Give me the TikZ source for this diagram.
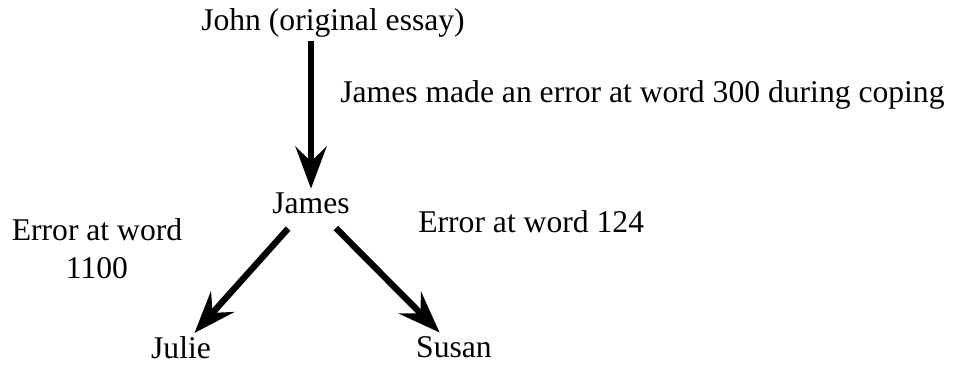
\documentclass[tikz,border=0pt]{standalone}
\usepackage{fontspec}
\setmainfont{Liberation Serif}
\usetikzlibrary{arrows.meta,positioning}
\tikzset{
  person/.style={inner sep=2pt,font=\fontsize{18}{21.5}\selectfont},
  errnote/.style={inner sep=0pt,font=\fontsize{18}{21.5}\selectfont,align=center},
  copyarrow/.style={-{Stealth[length=0.84cm,width=0.62cm,inset=0.3cm]},line width=3.6pt}
}
\begin{document}
\begin{tikzpicture}[x=0.02cm,y=-0.02cm]
  \useasboundingbox (0,0) rectangle (953,365);
  \node[person] (john) at (333,23) {John (original essay)};
  \node[person] (james) at (311,203) {James};
  \node[person] (julie) at (181,348) {Julie};
  \node[person] (susan) at (454,347) {Susan};
  \node[errnote,anchor=west] (note300) at (340,95) {James made an error at word 300 during coping};
  \node[errnote] (note1100) at (97,249) {Error at word\\1100};
  \node[errnote,anchor=west] (note124) at (418,222) {Error at word 124};
  \draw[copyarrow] (james.north |- john.south) -- (james.north);
  \draw[copyarrow,shorten <=0.3cm] (james) -- (julie);
  \draw[copyarrow,shorten <=0.3cm] (james) -- (susan);
\end{tikzpicture}
\end{document}
